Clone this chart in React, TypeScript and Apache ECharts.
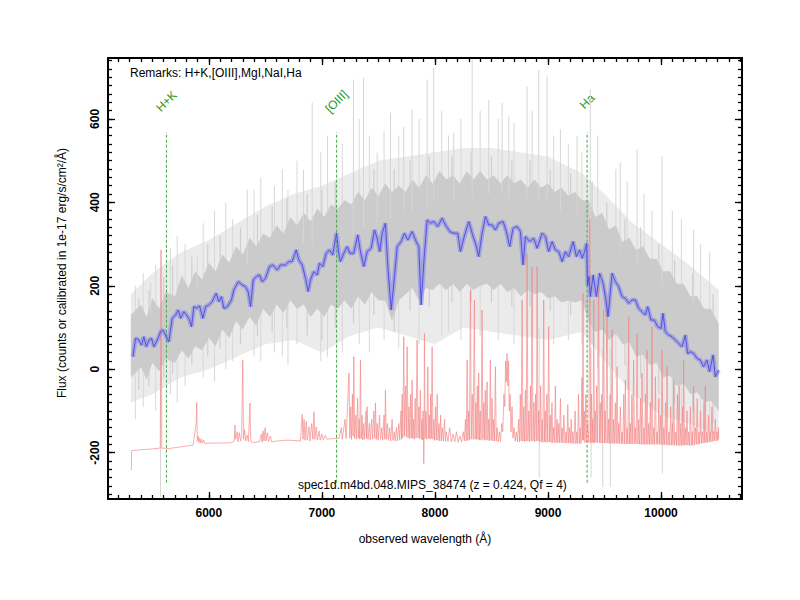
import React, { useEffect, useRef } from "react";
import * as echarts from "echarts";

// ---- axis ticks ----
const xMajorTicks = [6000, 7000, 8000, 9000, 10000];
const yMajorTicks = [-200, 0, 200, 400, 600];
const X_MIN = 5108;
const X_MAX = 10716;
const Y_MIN = -311;
const Y_MAX = 746;

// ---- spectral feature markers ----
const lineNames = ["H+K", "[OIII]", "Ha"];
const lineWaves = [5625, 7130, 9346];
const lineBottom = -272;
const lineTop = 568;
const lineLabelY = 642;

// ---- smoothed spectrum (blue) ----
const smoothFlux: [number, number][] = [
  [5328, 30], [5352, 74], [5381, 70], [5405, 58], [5425, 78], [5447, 54], [5470, 70], [5493, 74], [5514, 54], [5544, 70],
  [5573, 90], [5594, 94], [5617, 82], [5646, 66], [5676, 122], [5706, 130], [5729, 142], [5750, 122], [5779, 138], [5803, 130],
  [5829, 118], [5847, 102], [5867, 150], [5897, 146], [5918, 152], [5947, 122], [5971, 150], [6000, 154], [6030, 162], [6065, 182],
  [6088, 162], [6112, 174], [6133, 146], [6163, 150], [6200, 166], [6221, 190], [6260, 210], [6295, 202], [6324, 198], [6348, 186],
  [6369, 150], [6393, 214], [6419, 222], [6448, 226], [6472, 210], [6501, 218], [6537, 246], [6566, 250], [6605, 238], [6634, 250],
  [6678, 250], [6708, 258], [6737, 258], [6773, 286], [6796, 262], [6826, 250], [6855, 218], [6879, 186], [6899, 214], [6928, 234],
  [6958, 226], [6979, 254], [7008, 246], [7038, 278], [7067, 286], [7096, 274], [7129, 326], [7149, 278], [7164, 258], [7194, 278],
  [7224, 294], [7247, 278], [7282, 278], [7317, 322], [7341, 282], [7371, 246], [7400, 282], [7436, 290], [7465, 334], [7489, 314],
  [7512, 282], [7533, 326], [7562, 350], [7583, 246], [7613, 142], [7642, 222], [7666, 294], [7701, 306], [7730, 326], [7760, 310],
  [7798, 330], [7827, 310], [7857, 294], [7878, 154], [7901, 254], [7931, 358], [7960, 350], [7990, 354], [8025, 342], [8064, 362],
  [8093, 346], [8131, 330], [8166, 326], [8202, 326], [8225, 282], [8255, 314], [8299, 354], [8329, 326], [8367, 294], [8387, 270],
  [8417, 326], [8447, 366], [8476, 346], [8506, 346], [8535, 334], [8564, 350], [8603, 354], [8632, 330], [8661, 294], [8691, 338],
  [8727, 342], [8756, 330], [8780, 250], [8800, 318], [8838, 306], [8874, 314], [8904, 290], [8948, 326], [8977, 318], [9006, 282],
  [9036, 306], [9065, 286], [9095, 282], [9125, 258], [9154, 282], [9183, 270], [9222, 306], [9251, 270], [9280, 286], [9302, 266],
  [9322, 280], [9342, 302], [9350, 200], [9362, 222], [9375, 174], [9399, 226], [9428, 174], [9457, 230], [9487, 206], [9508, 174],
  [9531, 126], [9567, 230], [9596, 210], [9625, 198], [9655, 174], [9684, 170], [9714, 158], [9743, 166], [9773, 166], [9802, 146],
  [9832, 138], [9861, 130], [9882, 150], [9911, 118], [9941, 118], [9970, 102], [10000, 98], [10017, 134], [10038, 90], [10067, 82],
  [10097, 78], [10126, 70], [10156, 62], [10186, 54], [10215, 82], [10235, 38], [10259, 42], [10288, 38], [10318, 26], [10347, 22],
  [10376, 6], [10406, 22], [10429, -6], [10460, 34], [10480, -18], [10509, -2],
];

// ---- raw spectrum (grey): dense core envelope ----
const rawCoreUpper: [number, number][] = [
  [5310, 130], [5400, 155], [5450, 125], [5500, 170], [5560, 145], [5620, 185], [5700, 175], [5760, 225], [5820, 195], [5880, 235],
  [5940, 215], [6000, 255], [6060, 235], [6120, 275], [6180, 255], [6240, 295], [6300, 275], [6360, 315], [6420, 295], [6480, 325],
  [6540, 315], [6600, 345], [6660, 325], [6720, 365], [6780, 345], [6840, 375], [6900, 355], [6960, 385], [7020, 365], [7080, 395],
  [7140, 385], [7200, 405], [7260, 395], [7320, 425], [7380, 405], [7440, 435], [7500, 415], [7560, 445], [7620, 425], [7680, 440],
  [7740, 425], [7800, 455], [7860, 435], [7920, 465], [7980, 445], [8040, 475], [8100, 455], [8160, 465], [8220, 445], [8280, 475],
  [8340, 455], [8400, 475], [8460, 455], [8520, 465], [8580, 445], [8640, 465], [8700, 445], [8760, 455], [8820, 435], [8880, 455],
  [8940, 435], [9000, 445], [9060, 425], [9120, 435], [9180, 415], [9240, 425], [9300, 405], [9360, 405], [9420, 365], [9480, 375],
  [9540, 335], [9600, 345], [9660, 305], [9720, 315], [9780, 285], [9840, 295], [9900, 265], [9960, 265], [10020, 235], [10080, 235],
  [10140, 205], [10200, 205], [10260, 175], [10320, 175], [10380, 145], [10440, 145], [10510, 110],
];
const rawCoreLower: [number, number][] = [
  [5310, -20], [5400, 5], [5450, -25], [5500, 15], [5560, -5], [5620, 25], [5700, 15], [5760, 45], [5820, 25], [5880, 55],
  [5940, 45], [6000, 75], [6060, 55], [6120, 95], [6180, 75], [6240, 115], [6300, 95], [6360, 125], [6420, 105], [6480, 145],
  [6540, 125], [6600, 155], [6660, 135], [6720, 165], [6780, 145], [6840, 155], [6900, 125], [6960, 145], [7020, 125], [7080, 155],
  [7140, 145], [7200, 165], [7260, 145], [7320, 175], [7380, 155], [7440, 185], [7500, 165], [7560, 165], [7620, 115], [7680, 165],
  [7740, 180], [7800, 195], [7860, 165], [7920, 195], [7980, 190], [8040, 205], [8100, 190], [8160, 205], [8220, 185], [8280, 205],
  [8340, 190], [8400, 200], [8460, 205], [8520, 190], [8580, 205], [8640, 185], [8700, 195], [8760, 175], [8820, 190], [8880, 180],
  [8940, 185], [9000, 170], [9060, 175], [9120, 160], [9180, 165], [9240, 160], [9300, 165], [9360, 115], [9420, 90], [9480, 95],
  [9540, 70], [9600, 85], [9660, 60], [9720, 65], [9780, 30], [9840, 35], [9900, 10], [9960, 15], [10020, -20], [10080, -15],
  [10140, -40], [10200, -35], [10260, -60], [10320, -55], [10380, -80], [10440, -75], [10510, -100],
];
// ---- raw spectrum (grey): sparse outer envelope ----
const rawOuterUpper: [number, number][] = [
  [5310, 180], [5500, 230], [5750, 280], [6000, 310], [6250, 350], [6500, 390], [6750, 420], [7000, 440], [7250, 470], [7500, 500],
  [7750, 510], [8000, 520], [8250, 530], [8500, 530], [8750, 520], [9000, 510], [9300, 470], [9500, 420], [9750, 350], [10000, 300],
  [10250, 250], [10510, 190],
];
const rawOuterLower: [number, number][] = [
  [5310, -80], [5500, -60], [5750, -20], [6000, 0], [6250, 30], [6500, 60], [6750, 70], [7000, 40], [7250, 80], [7500, 100],
  [7750, 80], [8000, 60], [8250, 100], [8500, 90], [8750, 80], [9000, 70], [9300, 90], [9500, 20], [9750, -60], [10000, -110],
  [10250, -130], [10510, -160],
];
// raw pixels that reach beyond the dense core: [wavelength, low, high]
const rawStrands: [number, number, number][] = [
  [5350, -120, 200], [5420, -90, 230], [5530, -100, 250], [5660, -60, 290], [5720, -80, 320], [5790, -40, 300], [5950, -20, 350],
  [6050, -30, 380], [6150, 0, 400], [6210, 20, 360], [6400, 30, 430], [6460, 20, 460], [6580, 40, 440], [6650, 30, 480],
  [6700, 10, 430], [6780, 60, 500], [6990, 20, 520], [7050, 30, 560], [7180, 40, 540], [7330, 60, 600], [7420, 40, 560],
  [7550, 70, 570], [7680, 50, 560], [7860, 60, 600], [8060, 80, 620], [8120, 90, 560], [8230, 70, 600], [8400, 80, 620],
  [8560, 70, 600], [8700, 60, 590], [8860, 80, 620], [9050, 60, 560], [9180, 70, 540], [9300, 60, 520], [9440, 0, 560],
  [9600, -20, 480], [9700, -50, 450], [9850, -80, 420], [9920, -90, 380], [10100, -140, 380], [10180, -130, 360],
  [10350, -160, 300], [10430, -170, 280],
];
// darker raw pixels just outside the dense core
const rawCoreStrands: [number, number, number][] = [
  [5380, -50, 170], [5470, -40, 190], [5600, -20, 220], [5680, -10, 250], [5850, 10, 270], [5990, 30, 300], [6100, 50, 320],
  [6280, 60, 340], [6430, 80, 370], [6560, 90, 390], [6690, 100, 410], [6870, 80, 420], [7000, 70, 430], [7120, 100, 450],
  [7280, 110, 470], [7460, 130, 480], [7640, 90, 480], [7780, 140, 500], [7950, 150, 510], [8150, 160, 510], [8320, 160, 520],
  [8500, 160, 510], [8680, 150, 500], [8840, 150, 500], [9020, 140, 480], [9200, 130, 470], [9390, 60, 450], [9520, 40, 400],
  [9680, 10, 360], [9820, -20, 340], [9980, -60, 300], [10120, -80, 260], [10280, -100, 230], [10460, -130, 180],
];
const rawSpikes: [number, number, number][] = [
  [5485, 130, 207], [5897, 200, 270], [6340, 250, 430], [6837, 300, 478], [6914, 300, 639], [7279, 330, 694], [7368, 340, 698],
  [7489, 350, 519], [7607, 360, 615], [7724, 380, 581], [7798, 380, 622], [7931, 390, 694], [7989, 400, 722], [8166, 400, 567],
  [8329, 410, 742], [8476, 420, 646], [8594, 420, 638], [8653, 410, 606], [8815, 410, 678], [8918, 400, 718], [8992, 400, 702],
  [9110, 380, 575], [9257, 370, 559], [9374, 340, 671], [9639, 280, 495], [9788, 250, 527], [10009, 200, 511], [10288, 150, 335],
  [5573, -306, 0], [8922, -259, 100], [9381, -259, 50], [9484, -282, 50], [9551, -282, 50], [10011, -250, -50],
];

// ---- sky spectrum (red) ----
const skyFlux: [number, number][] = [
  [5315, -242], [5317, -195], [5400, -193], [5500, -191], [5570, -189], [5577, 286], [5584, -189], [5650, -190], [5750, -186], [5860, -182],
  [5888, -130], [5893, -80], [5898, -172], [5906, -160], [5912, -176], [5920, -165], [5928, -177], [5936, -168], [5944, -177], [5955, -170],
  [5965, -178], [6000, -177], [6100, -177], [6200, -176], [6225, -172], [6231, -134], [6237, -168], [6250, -150], [6258, -174], [6270, -152],
  [6280, -172], [6290, -160], [6300, 22], [6307, -168], [6316, -145], [6326, -172], [6340, -158], [6350, -173], [6364, -81], [6370, -173],
  [6400, -176], [6450, -173], [6465, -155], [6471, -175], [6480, -148], [6488, -172], [6498, -140], [6506, -172], [6518, -152], [6528, -173],
  [6545, -160], [6556, -174], [6600, -172], [6700, -170], [6810, -172], [6826, -108], [6833, -168], [6842, -120], [6850, -170], [6862, -125],
  [6870, -170], [6886, -138], [6895, -172], [6910, -130], [6920, -168], [6930, -102], [6938, -168], [6950, -138], [6960, -170], [6975, -148],
  [6985, -170], [7000, -155], [7012, -170], [7030, -158], [7045, -168], [7100, -166], [7150, -166],
  [7172, -140], [7180, -168], [7205, -120], [7214, -166], [7240, -9], [7247, -165], [7255, -90], [7262, -168], [7270, -60], [7276, -160],
  [7282, 30], [7290, -166], [7300, -110], [7307, -168], [7316, -70], [7323, -165], [7330, -120], [7335, -168], [7341, 22], [7348, -166],
  [7355, -110], [7362, -170], [7370, -130], [7378, -168], [7390, -100], [7395, -166], [7400, -90], [7408, -168], [7420, -130], [7428, -170],
  [7440, -120], [7448, -168], [7460, -100], [7467, -166], [7474, -81], [7482, -168], [7490, -130], [7498, -170], [7510, -110], [7518, -168],
  [7530, -140], [7538, -170], [7550, -110], [7556, -168], [7562, -50], [7570, -168], [7580, -130], [7588, -170], [7600, -140], [7608, -172],
  [7621, -120], [7628, -170], [7640, -150], [7648, -172], [7660, -140], [7668, -172], [7680, -130], [7688, -170], [7700, -100], [7705, -168],
  [7710, -60], [7716, -165], [7724, 78], [7731, -160], [7740, -40], [7747, -162], [7754, 54], [7762, -165], [7770, -90], [7777, -166],
  [7785, -60], [7791, -165], [7798, -26], [7804, -166], [7810, -120], [7817, -168], [7825, -70], [7833, -165], [7842, 70], [7850, -165],
  [7858, -90], [7864, -166], [7871, -50], [7878, -168], [7885, -120], [7891, -170], [7895, -100], [7899, -170], [7901, -226], [7904, -170],
  [7907, 86], [7913, -166], [7920, -100], [7928, -168], [7937, 6], [7944, -166], [7950, -110], [7956, -168], [7962, -60], [7968, -166],
  [7975, 54], [7982, -168], [7990, -120], [7997, -170], [8005, -90], [8012, -170], [8020, -60], [8027, -170], [8035, -130], [8042, -172],
  [8050, -110], [8057, -172], [8065, -140], [8075, -172], [8085, -120], [8092, -173], [8100, -150], [8115, -173], [8130, -140], [8145, -174],
  [8160, -155], [8175, -174], [8190, -150], [8205, -175], [8220, -160], [8235, -174], [8250, -150], [8260, -172], [8270, -120], [8277, -172],
  [8285, 22], [8291, -170], [8298, -100], [8305, -170], [8314, 190], [8321, -168], [8330, -60], [8338, -168], [8349, 166], [8355, -168],
  [8362, -80], [8368, -168], [8375, -40], [8381, -168], [8387, -9], [8393, -170], [8400, -100], [8408, -170], [8417, 142], [8424, -168],
  [8432, -80], [8438, -170], [8445, -50], [8452, -170], [8461, -30], [8468, -170], [8475, -120], [8482, -172], [8490, 22], [8497, -170],
  [8505, -70], [8512, -172], [8520, -120], [8527, -172], [8535, 6], [8542, -172], [8550, -140], [8560, -174], [8570, -150], [8580, -174],
  [8590, -130], [8600, -150], [8610, -60], [8618, -90], [8625, 20], [8632, -30], [8638, 38], [8645, -40], [8650, 20], [8658, -100],
  [8665, -60], [8673, -150], [8682, -90], [8690, -165], [8700, -140], [8710, -172], [8720, -150], [8730, -174], [8740, -120], [8748, -174],
  [8755, -60], [8763, -172], [8771, 166], [8778, -172], [8785, -90], [8792, -174], [8800, -50], [8807, -172], [8815, 278], [8822, -172],
  [8830, -100], [8837, -174], [8845, -40], [8852, -172], [8859, 246], [8867, -172], [8875, -80], [8882, -174], [8890, -60], [8897, -172],
  [8904, 246], [8911, -172], [8918, -100], [8926, -174], [8935, -40], [8941, -174], [8948, -120], [8955, -175], [8962, 166], [8969, -174],
  [8975, -100], [8982, -175], [8990, -60], [8998, -175], [9006, 102], [9013, -174], [9020, -110], [9027, -176], [9035, -80], [9042, -176],
  [9050, -140], [9057, -176], [9065, -40], [9072, -176], [9080, -120], [9087, -176], [9095, -130], [9102, -176], [9110, -70], [9117, -176],
  [9125, -140], [9132, -177], [9140, -110], [9150, -177], [9160, -150], [9167, -177], [9175, -85], [9182, -177], [9190, -140], [9197, -177],
  [9205, -120], [9212, -178], [9220, -150], [9230, -178], [9240, -100], [9247, -178], [9255, -150], [9262, -178], [9270, -60], [9277, -178],
  [9285, -140], [9292, -178], [9300, -20], [9305, -170], [9310, 182], [9315, -170], [9320, -100], [9327, -176], [9335, -60], [9342, -176],
  [9350, -130], [9362, -176], [9370, 360], [9377, -176], [9385, -60], [9390, -176], [9395, -120], [9399, -176], [9404, 166], [9411, -176],
  [9418, -100], [9424, -176], [9430, -40], [9438, -176], [9448, 198], [9455, -176], [9462, -80], [9468, -177], [9475, -60], [9483, -177],
  [9492, 142], [9499, -177], [9505, -100], [9513, -177], [9522, 166], [9529, -177], [9535, -120], [9542, -178], [9550, -60], [9558, -178],
  [9567, 94], [9574, -178], [9580, -120], [9588, -178], [9595, -80], [9603, -178], [9611, 6], [9618, -178], [9625, -130], [9632, -178],
  [9640, -90], [9648, -179], [9655, -150], [9662, -179], [9670, -60], [9677, -179], [9684, -26], [9692, -179], [9700, -140], [9707, -179],
  [9714, 126], [9721, -179], [9728, -130], [9735, -179], [9742, -60], [9750, -179], [9757, 22], [9765, -179], [9772, -140], [9780, -179],
  [9788, 86], [9795, -179], [9802, -120], [9810, -180], [9818, -70], [9825, -180], [9832, -9], [9840, -180], [9848, -140], [9855, -180],
  [9862, -60], [9869, -180], [9876, 46], [9883, -180], [9890, -130], [9898, -180], [9905, -80], [9912, -180], [9920, 102], [9927, -180],
  [9935, -140], [9942, -180], [9950, -18], [9957, -180], [9965, -150], [9972, -180], [9980, -70], [9987, -180], [9995, -110], [10002, -181],
  [10009, 46], [10017, -181], [10025, -140], [10032, -181], [10040, -80], [10047, -181], [10053, 6], [10061, -182], [10070, -150], [10077, -182],
  [10085, -90], [10092, -182], [10100, -130], [10106, -182], [10112, -26], [10120, -183], [10130, -150], [10137, -183], [10145, -60], [10152, -183],
  [10160, -40], [10167, -183], [10175, -130], [10182, -183], [10190, -90], [10195, -182], [10200, 22], [10207, -182], [10215, -140], [10222, -182],
  [10230, -100], [10237, -182], [10245, -150], [10252, -183], [10260, -90], [10267, -183], [10275, -150], [10281, -182], [10288, -40], [10296, -181],
  [10305, -140], [10312, -180], [10320, -70], [10327, -180], [10335, -150], [10342, -179], [10350, -100], [10357, -178], [10365, -150], [10372, -177],
  [10380, -80], [10386, -176], [10391, -40], [10398, -176], [10405, -150], [10412, -175], [10420, -110], [10427, -175], [10435, -150], [10442, -174],
  [10450, -90], [10457, -173], [10465, -150], [10472, -172], [10480, -120], [10487, -172], [10495, -150], [10502, -171], [10508, -140], [10510, -168],
];

const FONT = "Liberation Sans, Arial, Helvetica, sans-serif";

function minorTicks(from: number, to: number, step: number): number[] {
  const out: number[] = [];
  for (let v = from; v <= to; v += step) out.push(v);
  return out;
}

function makeAxis(kind: "x" | "y", position: string, major: boolean, withLine: boolean, withLabel: boolean) {
  const isX = kind === "x";
  const ticks = major
    ? isX ? xMajorTicks : yMajorTicks
    : isX ? minorTicks(5200, 10700, 100) : minorTicks(-300, 740, 20);
  return {
    type: "value",
    position,
    min: isX ? X_MIN : Y_MIN,
    max: isX ? X_MAX : Y_MAX,
    splitLine: { show: false },
    axisLine: { show: withLine, onZero: false, lineStyle: { color: "#000", width: 2 } },
    axisTick: {
      show: true,
      inside: true,
      length: major ? 7 : 4,
      customValues: ticks,
      lineStyle: { color: "#000", width: 1.3 },
    },
    axisLabel: withLabel
      ? {
          show: true,
          customValues: ticks,
          formatter: (v: number) => String(v),
          fontFamily: FONT,
          fontSize: 12,
          fontWeight: "bold",
          color: "#000",
          margin: isX ? 8 : 7,
          rotate: isX ? 0 : 90,
        }
      : { show: false },
  };
}

function bandSeries(upper: [number, number][], lower: [number, number][], fill: string) {
  return {
    type: "custom",
    coordinateSystem: "cartesian2d",
    xAxisIndex: 0,
    yAxisIndex: 0,
    silent: true,
    clip: true,
    data: [[upper[0][0], upper[0][1]]],
    renderItem: (_p: any, api: any) => {
      const pts = upper.map((p) => api.coord(p)).concat(lower.slice().reverse().map((p) => api.coord(p)));
      return { type: "polygon", shape: { points: pts }, style: { fill, stroke: null } };
    },
  };
}

function segmentSeries(data: [number, number, number][], color: string, width: number, dash?: number[]) {
  return {
    type: "custom",
    coordinateSystem: "cartesian2d",
    silent: true,
    clip: true,
    encode: { x: 0, y: [1, 2] },
    data,
    renderItem: (_p: any, api: any) => {
      const a = api.coord([api.value(0), api.value(1)]);
      const b = api.coord([api.value(0), api.value(2)]);
      return {
        type: "line",
        shape: { x1: a[0], y1: a[1], x2: b[0], y2: b[1] },
        style: { stroke: color, lineWidth: width, lineDash: dash },
      };
    },
  };
}

function textEl(text: string, x: number, y: number, extra: any = {}, rotation = 0) {
  return {
    type: "text",
    x,
    y,
    rotation,
    silent: true,
    style: { text, fontSize: 12, fontFamily: FONT, fill: "#000", verticalAlign: "middle", ...extra },
  };
}

export default function App() {
  const ref = useRef<HTMLDivElement>(null);
  useEffect(() => {
    const chart = echarts.init(ref.current!, null, { renderer: "svg" });
    const option: any = {
      animation: false,
      backgroundColor: "#fff",
      grid: { left: 108, right: 58, top: 58, bottom: 101, containLabel: false },
      xAxis: [
        makeAxis("x", "bottom", true, true, true),
        makeAxis("x", "bottom", false, false, false),
        makeAxis("x", "top", true, true, false),
        makeAxis("x", "top", false, false, false),
      ],
      yAxis: [
        makeAxis("y", "left", true, true, true),
        makeAxis("y", "left", false, false, false),
        makeAxis("y", "right", true, true, false),
        makeAxis("y", "right", false, false, false),
      ],
      series: [
        bandSeries(rawOuterUpper, rawOuterLower, "#ebebeb"),
        segmentSeries(rawStrands, "#d8d8d8", 1),
        segmentSeries(rawCoreStrands, "#cfcfcf", 1.2),
        bandSeries(rawCoreUpper, rawCoreLower, "#cbcbcb"),
        segmentSeries(rawSpikes, "#d6d6d6", 1),
        {
          type: "line",
          data: skyFlux,
          showSymbol: false,
          symbol: "none",
          silent: true,
          clip: true,
          lineStyle: { color: "#f38a8a", width: 0.7 },
        },
        {
          type: "line",
          data: smoothFlux,
          showSymbol: false,
          symbol: "none",
          silent: true,
          lineStyle: { color: "rgba(125,125,240,0.5)", width: 4.5 },
        },
        {
          type: "line",
          data: smoothFlux,
          showSymbol: false,
          symbol: "none",
          silent: true,
          lineStyle: { color: "#4848e0", width: 0.9 },
        },
        segmentSeries(
          lineWaves.map((w) => [w, lineBottom, lineTop] as [number, number, number]),
          "#45aa45",
          1,
          [3, 2]
        ),
      ],
    };
    chart.setOption(option);

    const labels = lineWaves.map((w, i) => {
      const p = chart.convertToPixel({ xAxisIndex: 0, yAxisIndex: 0 }, [w, lineLabelY]) as number[];
      return textEl(lineNames[i], p[0], p[1], { fill: "#1f9a1f", align: "center" }, Math.PI / 4);
    });
    chart.setOption({
      graphic: [
        textEl("Remarks: H+K,[OIII],MgI,NaI,Ha", 130, 73),
        textEl("spec1d.m4bd.048.MIPS_38474 (z = 0.424, Qf = 4)", 298, 485),
        textEl("observed wavelength (Å)", 425, 539, { align: "center" }),
        textEl("Flux (counts or calibrated in 1e-17 erg/s/cm²/Å)", 62, 273, { align: "center" }, Math.PI / 2),
        ...labels,
      ],
    });
    return () => chart.dispose();
  }, []);
  return (
    <div
      ref={ref}
      style={{ position: "fixed", left: 0, top: 0, width: 800, height: 600, background: "#fff" }}
    />
  );
}
